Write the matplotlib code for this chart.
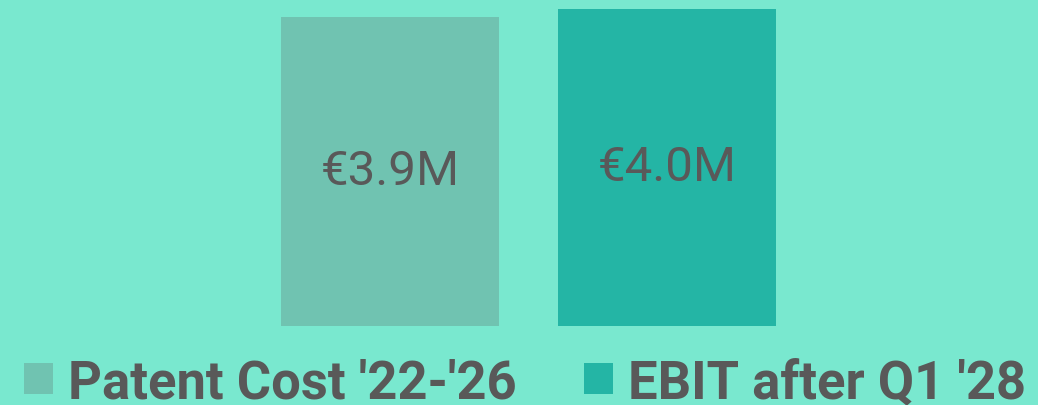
import matplotlib.pyplot as plt
from matplotlib.patches import Patch

categories = ["Patent Cost '22-'26", "EBIT after Q1 '28"]
values = [3.9, 4.0]
value_labels = ['€3.9M', '€4.0M']
colors = ['#70C3B1', '#24B5A5']

bg = '#79E8CF'
text_color = '#595959'

plt.rcParams['font.family'] = ['Roboto', 'DejaVu Sans']

fig = plt.figure(figsize=(10.38, 4.06), dpi=100, facecolor=bg)
ax = fig.add_axes([281 / 1038, 79 / 406, 495 / 1038, 317 / 406])
ax.set_facecolor(bg)

x = range(len(values))
bars = ax.bar(x, values, width=0.787, color=colors)

for bar, lab in zip(bars, value_labels):
    ax.text(bar.get_x() + bar.get_width() / 2, bar.get_height() / 2, lab,
            ha='center', va='center', fontsize=35.5, color=text_color)

ax.set_xlim(-0.3935, 1.3935)
ax.set_ylim(0, 4.0)
ax.axis('off')

handles = [Patch(facecolor=c, edgecolor='none') for c in colors]
leg = fig.legend(handles, categories, loc='lower center', ncol=2,
                 bbox_to_anchor=(0.506, -0.008), frameon=False,
                 prop={'family': 'Roboto', 'weight': 'bold', 'size': 37.8},
                 handlelength=0.55, handleheight=0.55, handletextpad=0.29,
                 columnspacing=1.28, borderaxespad=0, borderpad=0)
for t in leg.get_texts():
    t.set_color(text_color)

fig.savefig('out.png', dpi=100, facecolor=bg)
